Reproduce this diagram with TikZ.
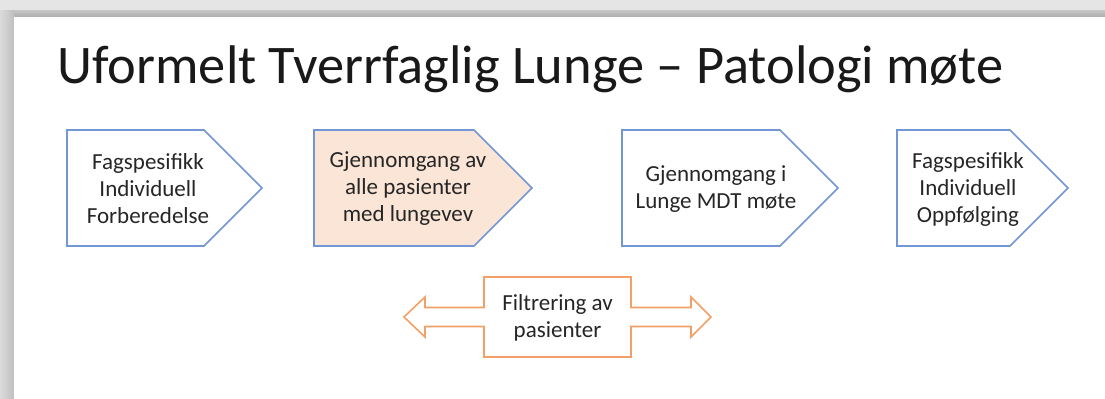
\documentclass[tikz,border=0pt]{standalone}
\usepackage{fontspec}
\setmainfont{Carlito}
\definecolor{plateblue}{HTML}{7296D6}
\definecolor{filterorange}{HTML}{F2A068}
\definecolor{platefill}{HTML}{FBE5D6}
\begin{document}
\begin{tikzpicture}[x=0.5pt, y=-0.5pt,
    plate/.style={draw=plateblue, line width=0.8pt, line join=miter},
    platetext/.style={align=center, inner sep=0, text=black!85, font=\fontsize{11.5}{13.5}\selectfont}]
    \useasboundingbox (0,0) rectangle (1105,398);
    % slide frame
    \fill[black!10] (0,0) rectangle (1105,398);
    \shade[top color=black!22, bottom color=black!32] (7,10) rectangle (1105,17);
    \shade[left color=black!14, right color=black!25] (0,10) rectangle (14,398);
    \fill[white] (14,17) rectangle (1105,398);
    \node[anchor=base west, inner sep=0, text=black!90, font=\fontsize{27.2}{32}\selectfont] (title) at (57,83) {Uformelt Tverrfaglig Lunge – Patologi møte};
    % steps
    \draw[plate] (67,130) -- (204,130) -- (262,188) -- (204,246) -- (67,246) -- cycle;
    \node[platetext] (prep) at (148,189) {Fagspesifikk\\Individuell\\Forberedelse};
    \draw[plate, fill=platefill] (314,130) -- (474,130) -- (532,188) -- (474,246) -- (314,246) -- cycle;
    \node[platetext] (review) at (408,189) {Gjennomgang av\\alle pasienter\\med lungevev};
    \draw[plate] (622,130) -- (780,130) -- (838,188) -- (780,246) -- (622,246) -- cycle;
    \node[platetext] (mdt) at (716,189) {Gjennomgang i\\Lunge MDT møte};
    \draw[plate] (897,130) -- (1010,130) -- (1068,188) -- (1010,246) -- (897,246) -- cycle;
    \node[platetext] (followup) at (968,189) {Fagspesifikk\\Individuell\\Oppfølging};
    % filter callout
    \draw[draw=filterorange, line width=0.8pt, line join=miter] (484,277) -- (631,277) -- (631,307.5) -- (691,307.5) -- (691,297) -- (711,317) -- (691,337) -- (691,326.5) -- (631,326.5) -- (631,357) -- (484,357) -- (484,326.5) -- (425,326.5) -- (425,337) -- (404,317) -- (425,297) -- (425,307.5) -- (484,307.5) -- cycle;
    \node[platetext] (filter) at (557.5,318) {Filtrering av\\pasienter};
\end{tikzpicture}
\end{document}
